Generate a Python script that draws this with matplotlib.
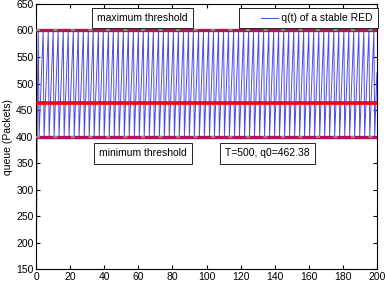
import matplotlib
matplotlib.use("Agg")
import matplotlib.pyplot as plt
import numpy as np

plt.rcParams['font.family'] = ['Liberation Sans', 'DejaVu Sans']

# start-up transient
start_t = [0.0, 0.2, 0.4, 0.7]
start_q = [160, 200, 330, 470]
# sawtooth peaks (600) and troughs (400)
peak_t = [1.2, 4.1, 7.1, 10.0, 12.9, 15.9, 18.8, 21.8, 24.7, 27.7, 30.6, 33.5, 36.5, 39.4,
          42.4, 45.3, 48.2, 51.2, 54.1, 57.1, 60.0, 62.9, 65.9, 68.8, 71.8, 74.7, 77.6,
          80.6, 83.5, 86.5, 89.4, 92.3, 95.3, 98.2, 101.2, 104.1, 107.0, 110.0, 112.9,
          115.9, 118.8, 121.8, 124.7, 127.6, 130.6, 133.5, 136.5, 139.4, 142.3, 145.3,
          148.2, 151.2, 154.1, 157.0, 160.0, 162.9, 165.9, 168.8, 171.7, 174.7, 177.6,
          180.6, 183.5, 186.4, 189.4, 192.3, 195.3, 198.2]
trough_t = [1.7, 4.6, 7.6, 10.5, 13.4, 16.4, 19.3, 22.3, 25.2, 28.2, 31.1, 34.0, 37.0, 39.9,
            42.9, 45.8, 48.7, 51.7, 54.6, 57.6, 60.5, 63.4, 66.4, 69.3, 72.3, 75.2, 78.1,
            81.1, 84.0, 87.0, 89.9, 92.8, 95.8, 98.7, 101.7, 104.6, 107.5, 110.5, 113.4,
            116.4, 119.3, 122.3, 125.2, 128.1, 131.1, 134.0, 137.0, 139.9, 142.8, 145.8,
            148.7, 151.7, 154.6, 157.5, 160.5, 163.4, 166.4, 169.3, 172.2, 175.2, 178.1,
            181.1, 184.0, 186.9, 189.9, 192.8, 195.8, 198.7]
peak_q = 600
trough_q = 400
end_t = [200.0]
end_q = [520]

max_th = 600
min_th = 400
q0 = 462.38
series_label = 'q(t) of a stable RED'

t = list(start_t)
q = list(start_q)
for pt, tt in zip(peak_t, trough_t):
    t += [pt, tt]
    q += [peak_q, trough_q]
t += end_t
q += end_q

fig = plt.figure(figsize=(3.85, 2.85), dpi=100)
ax = fig.add_axes([0.094, 0.056, 0.885, 0.93])

ax.plot(t, q, color='#4a4af0', lw=0.7, label=series_label)
for y in (max_th, min_th):
    ax.plot([0, 200], [y, y], color='#b8105a', lw=2.4, zorder=3)
    ax.plot([0, 200], [y, y], color='#60c860', lw=1.4, ls=(0, (2, 7)), alpha=0.8, zorder=4)
ax.plot([0, 200], [q0, q0], color='#ff0000', lw=2.6, zorder=3)

ax.set_xlim(0, 200)
ax.set_ylim(150, 650)
ax.set_xticks(np.arange(0, 201, 20))
ax.set_yticks(np.arange(150, 651, 50))
ax.tick_params(direction='in', length=3, labelsize=7.5, top=True, right=True, pad=2)
ax.set_ylabel('queue (Packets)', fontsize=7.5, labelpad=2)

box = dict(boxstyle='square,pad=0.5', fc='white', ec='black', lw=0.6)
ax.text(62.5, 624, 'maximum threshold', fontsize=7.5, ha='center', va='center', bbox=box, zorder=6)
ax.text(62.5, 368, 'minimum threshold', fontsize=7.5, ha='center', va='center', bbox=box, zorder=6)
ax.text(135.5, 368, 'T=500, q0=462.38', fontsize=7.5, ha='center', va='center', bbox=box, zorder=6)

# legend box (Matlab style: short line sample set in from the left edge)
ax.text(197.5, 624, '             ' + series_label, fontsize=7.5, ha='right', va='center',
        bbox=box, zorder=6)
ax.plot([0.66, 0.71], [0.948, 0.948], transform=ax.transAxes, color='#4a4af0', lw=0.7,
        zorder=7)

fig.savefig('out.png', dpi=100)
